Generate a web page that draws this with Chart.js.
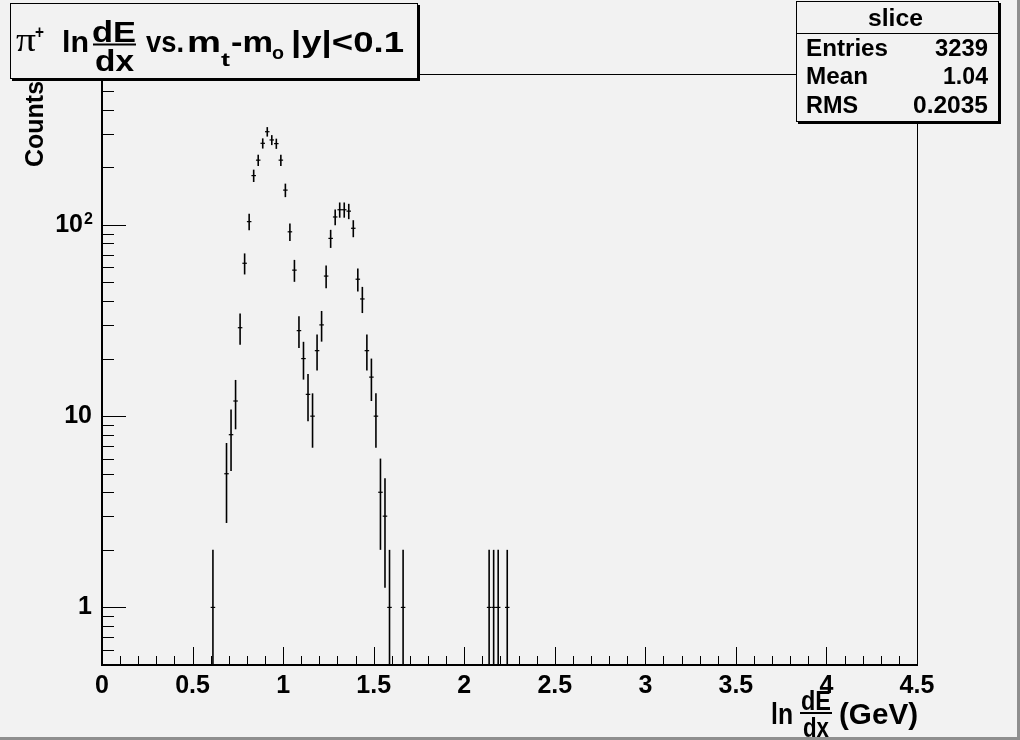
<!DOCTYPE html>
<html>
<head>
<meta charset="utf-8">
<script src="https://cdn.jsdelivr.net/npm/chart.js@4.4.1/dist/chart.umd.min.js"></script>
<style>
  html, body { margin: 0; padding: 0; background: #f2f2f2; }
  #wrap { width: 1020px; height: 740px; }
</style>
</head>
<body>
<div id="wrap"><canvas id="chart" width="1020" height="740"></canvas></div>
<script>
// histogram bins (centre, counts), bin width 0.025
const binCenters = [0.6125, 0.6875, 0.7125, 0.7375, 0.7625, 0.7875, 0.8125, 0.8375, 0.8625, 0.8875,
    0.9125, 0.9375, 0.9625, 0.9875, 1.0125, 1.0375, 1.0625, 1.0875, 1.1125, 1.1375,
    1.1625, 1.1875, 1.2125, 1.2375, 1.2625, 1.2875, 1.3125, 1.3375, 1.3625, 1.3875,
    1.4125, 1.4375, 1.4625, 1.4875, 1.5125, 1.5375, 1.5625, 1.5875, 1.6625,
    2.1375, 2.1625, 2.1875, 2.2375];
const binCounts = [1, 5, 8, 12, 29, 63, 104, 181, 218, 267,
    307, 278, 266, 218, 152, 92, 58, 28, 20, 13,
    10, 22, 30, 54, 85, 110, 120, 120, 118, 96,
    52, 41, 22, 16, 10, 4, 3, 1, 1,
    1, 1, 1, 1];
const binWidth = 0.025;

const xTickValues = [0, 0.5, 1, 1.5, 2, 2.5, 3, 3.5, 4, 4.5];
const xTickLabels = ['0', '0.5', '1', '1.5', '2', '2.5', '3', '3.5', '4', '4.5'];
const yTickValues = [1, 10, 100];
const yTickLabels = ['1', '10', '10^2'];

const statsNames = ['Entries', 'Mean', 'RMS'];
const statsValues = ['3239', '1.04', '0.2035'];

const bg = '#f2f2f2';
const sans = '"Liberation Sans", Arial, sans-serif';

// draw a piece of text squeezed/stretched to fit between x0 and x1
function fitText(ctx, text, x0, x1, y, font) {
    ctx.font = font;
    const w = ctx.measureText(text).width;
    ctx.save();
    ctx.translate(x0, y);
    ctx.scale((x1 - x0) / w, 1);
    ctx.textAlign = 'left';
    ctx.textBaseline = 'alphabetic';
    ctx.fillText(text, 0, 0);
    ctx.restore();
}

function line(ctx, x0, y0, x1, y1) {
    ctx.beginPath();
    ctx.moveTo(x0, y0);
    ctx.lineTo(x1, y1);
    ctx.stroke();
}

const rootFrame = {
    id: 'rootFrame',
    beforeDraw(chart) {
        const ctx = chart.ctx;
        ctx.save();
        ctx.fillStyle = bg;
        ctx.fillRect(0, 0, chart.width, chart.height);
        ctx.restore();
    },
    beforeDatasetsDraw(chart) {
        const { ctx, chartArea: { left, right, top, bottom }, scales: { x, y } } = chart;
        ctx.save();
        ctx.strokeStyle = '#000';
        ctx.lineWidth = 1;
        ctx.strokeRect(left + 0.5, top + 0.5, right - left, bottom - top);
        ctx.lineWidth = 2;
        line(ctx, left, top, left, bottom + 1);
        line(ctx, left - 1, bottom, right + 1, bottom);

        ctx.lineWidth = 1;
        xTickValues.forEach(v => {
            const px = Math.round(x.getPixelForValue(v)) + 0.5;
            line(ctx, px, bottom, px, bottom - 18);
        });
        for (let i = 1; i < 45; i++) {
            if (i % 5 === 0) continue;
            const px = Math.round(x.getPixelForValue(i / 10)) + 0.5;
            line(ctx, px, bottom, px, bottom - 9);
        }
        yTickValues.forEach(v => {
            const py = Math.round(y.getPixelForValue(v)) + 0.5;
            line(ctx, left, py, left + 24, py);
        });
        [0.1, 1, 10, 100].forEach(d => {
            for (let k = 2; k <= 9; k++) {
                const v = k * d;
                if (v <= y.min || v >= y.max) continue;
                const py = Math.round(y.getPixelForValue(v)) + 0.5;
                line(ctx, left, py, left + 12, py);
            }
        });
        ctx.restore();
    },
    afterDatasetsDraw(chart) {
        // sqrt(N) error bars and bin-width bars
        const { ctx, chartArea, scales: { x, y } } = chart;
        ctx.save();
        ctx.beginPath();
        ctx.rect(chartArea.left, chartArea.top, chartArea.right - chartArea.left, chartArea.bottom - chartArea.top);
        ctx.clip();
        ctx.strokeStyle = '#000';
        chart.data.datasets[0].data.forEach(p => {
            const err = Math.sqrt(p.y);
            const px = x.getPixelForValue(p.x);
            const py = y.getPixelForValue(p.y);
            const hi = y.getPixelForValue(p.y + err);
            const lo = p.y - err > y.min ? y.getPixelForValue(p.y - err) : chartArea.bottom;
            ctx.lineWidth = 1.6;
            line(ctx, px, hi, px, lo);
            ctx.lineWidth = 1.2;
            line(ctx, x.getPixelForValue(p.x - binWidth / 2), py, x.getPixelForValue(p.x + binWidth / 2), py);
        });
        ctx.restore();
    },
    afterDraw(chart) {
        const ctx = chart.ctx;
        const y = chart.scales.y;
        ctx.save();
        ctx.fillStyle = '#000';
        ctx.strokeStyle = '#000';

        // exponents of the y tick labels
        yTickLabels.forEach((lab, i) => {
            const parts = lab.split('^');
            if (parts.length < 2) return;
            const py = y.getPixelForValue(yTickValues[i]);
            ctx.font = 'bold 16px ' + sans;
            ctx.textAlign = 'right';
            ctx.textBaseline = 'alphabetic';
            ctx.fillText(parts[1], 93, py - 1);
        });

        // y axis title
        ctx.save();
        ctx.translate(43, 167);
        ctx.rotate(-Math.PI / 2);
        ctx.font = 'bold 25px ' + sans;
        ctx.textAlign = 'left';
        ctx.fillText('Counts', 0, 0);
        ctx.restore();

        // x axis title: ln dE/dx (GeV)
        const xf = 'bold 29px ' + sans;
        fitText(ctx, 'ln', 771, 793, 724, xf);
        fitText(ctx, 'dE', 801, 831, 710, 'bold 27px ' + sans);
        ctx.lineWidth = 2;
        line(ctx, 800, 713, 832, 713);
        fitText(ctx, 'dx', 803, 829, 737, 'bold 27px ' + sans);
        fitText(ctx, '(GeV)', 839, 918, 724, xf);

        // title box
        ctx.fillStyle = bg;
        ctx.fillRect(10, 3, 408, 76);
        ctx.fillStyle = '#000';
        ctx.lineWidth = 1;
        ctx.strokeRect(10.5, 3.5, 407, 75);
        ctx.fillRect(417, 5, 3, 76);
        ctx.fillRect(12, 78, 408, 3);

        const tf = 'bold 30px ' + sans;
        fitText(ctx, '\u03C0', 16, 36, 51, '34px "Liberation Serif", serif');
        fitText(ctx, '+', 35, 44, 38, 'bold 18px ' + sans);
        fitText(ctx, 'ln', 62, 89, 52, tf);
        fitText(ctx, 'dE', 92, 136, 42, tf);
        ctx.lineWidth = 2;
        line(ctx, 93, 44.5, 136, 44.5);
        fitText(ctx, 'dx', 95, 134, 71, tf);
        fitText(ctx, 'vs.', 146, 184, 52, tf);
        fitText(ctx, 'm', 187, 221, 52, tf);
        fitText(ctx, 't', 221, 230, 66, 'bold 19px ' + sans);
        fitText(ctx, '-m', 231, 273, 52, tf);
        fitText(ctx, 'o', 272, 284, 59, 'bold 19px ' + sans);
        fitText(ctx, '|y|<0.1', 291, 404, 52, tf);

        // stats box
        ctx.fillStyle = bg;
        ctx.fillRect(796, 1, 203, 121);
        ctx.fillStyle = '#000';
        ctx.lineWidth = 1;
        ctx.strokeRect(796.5, 1.5, 202, 120);
        ctx.fillRect(998, 3, 3, 121);
        ctx.fillRect(798, 121, 203, 3);
        line(ctx, 796, 33.5, 998, 33.5);
        const sf = 'bold 23px ' + sans;
        fitText(ctx, 'slice', 868, 923, 26, sf);
        const rowY = [56, 84, 113];
        const nameEnds = [888, 868, 858];
        const valStarts = [935, 943, 913];
        statsNames.forEach((n, i) => {
            fitText(ctx, n, 806, nameEnds[i], rowY[i], sf);
            fitText(ctx, statsValues[i], valStarts[i], 988, rowY[i], sf);
        });

        // canvas bevel
        ctx.fillStyle = '#8f8f8f';
        ctx.fillRect(0, 737, 1020, 3);
        ctx.fillRect(1017, 0, 3, 740);
        ctx.restore();
    }
};

new Chart(document.getElementById('chart'), {
    type: 'scatter',
    data: {
        datasets: [{
            label: 'slice',
            data: binCenters.map((c, i) => ({ x: c, y: binCounts[i] })),
            pointRadius: 0,
            pointHoverRadius: 0,
            showLine: false
        }]
    },
    options: {
        responsive: false,
        animation: false,
        devicePixelRatio: 1,
        layout: { padding: { top: 74, right: 103, left: 0, bottom: 0 } },
        plugins: {
            legend: { display: false },
            tooltip: { enabled: false }
        },
        scales: {
            x: {
                type: 'linear',
                min: 0,
                max: 4.5,
                grid: { display: false, drawTicks: false },
                border: { display: false },
                afterBuildTicks: scale => {
                    scale.ticks = xTickValues.map(v => ({ value: v }));
                },
                afterFit: scale => { scale.height = 75; },
                ticks: {
                    autoSkip: false,
                    maxRotation: 0,
                    padding: 6,
                    color: '#000',
                    font: { family: sans, size: 25, weight: 'bold' },
                    callback: (v, i) => xTickLabels[i]
                }
            },
            y: {
                type: 'logarithmic',
                min: 0.5,
                max: 615,
                grid: { display: false, drawTicks: false },
                border: { display: false },
                afterBuildTicks: scale => {
                    scale.ticks = yTickValues.map(v => ({ value: v }));
                },
                afterFit: scale => { scale.width = 102; },
                ticks: {
                    autoSkip: false,
                    padding: 10,
                    color: '#000',
                    font: { family: sans, size: 25, weight: 'bold' },
                    // base part only; the exponent is drawn raised in the plugin
                    callback: (v, i) => {
                        const parts = yTickLabels[i].split('^');
                        return parts.length > 1 ? parts[0] + '\u2008\u200A' : parts[0];
                    }
                }
            }
        }
    },
    plugins: [rootFrame]
});
</script>
</body>
</html>
